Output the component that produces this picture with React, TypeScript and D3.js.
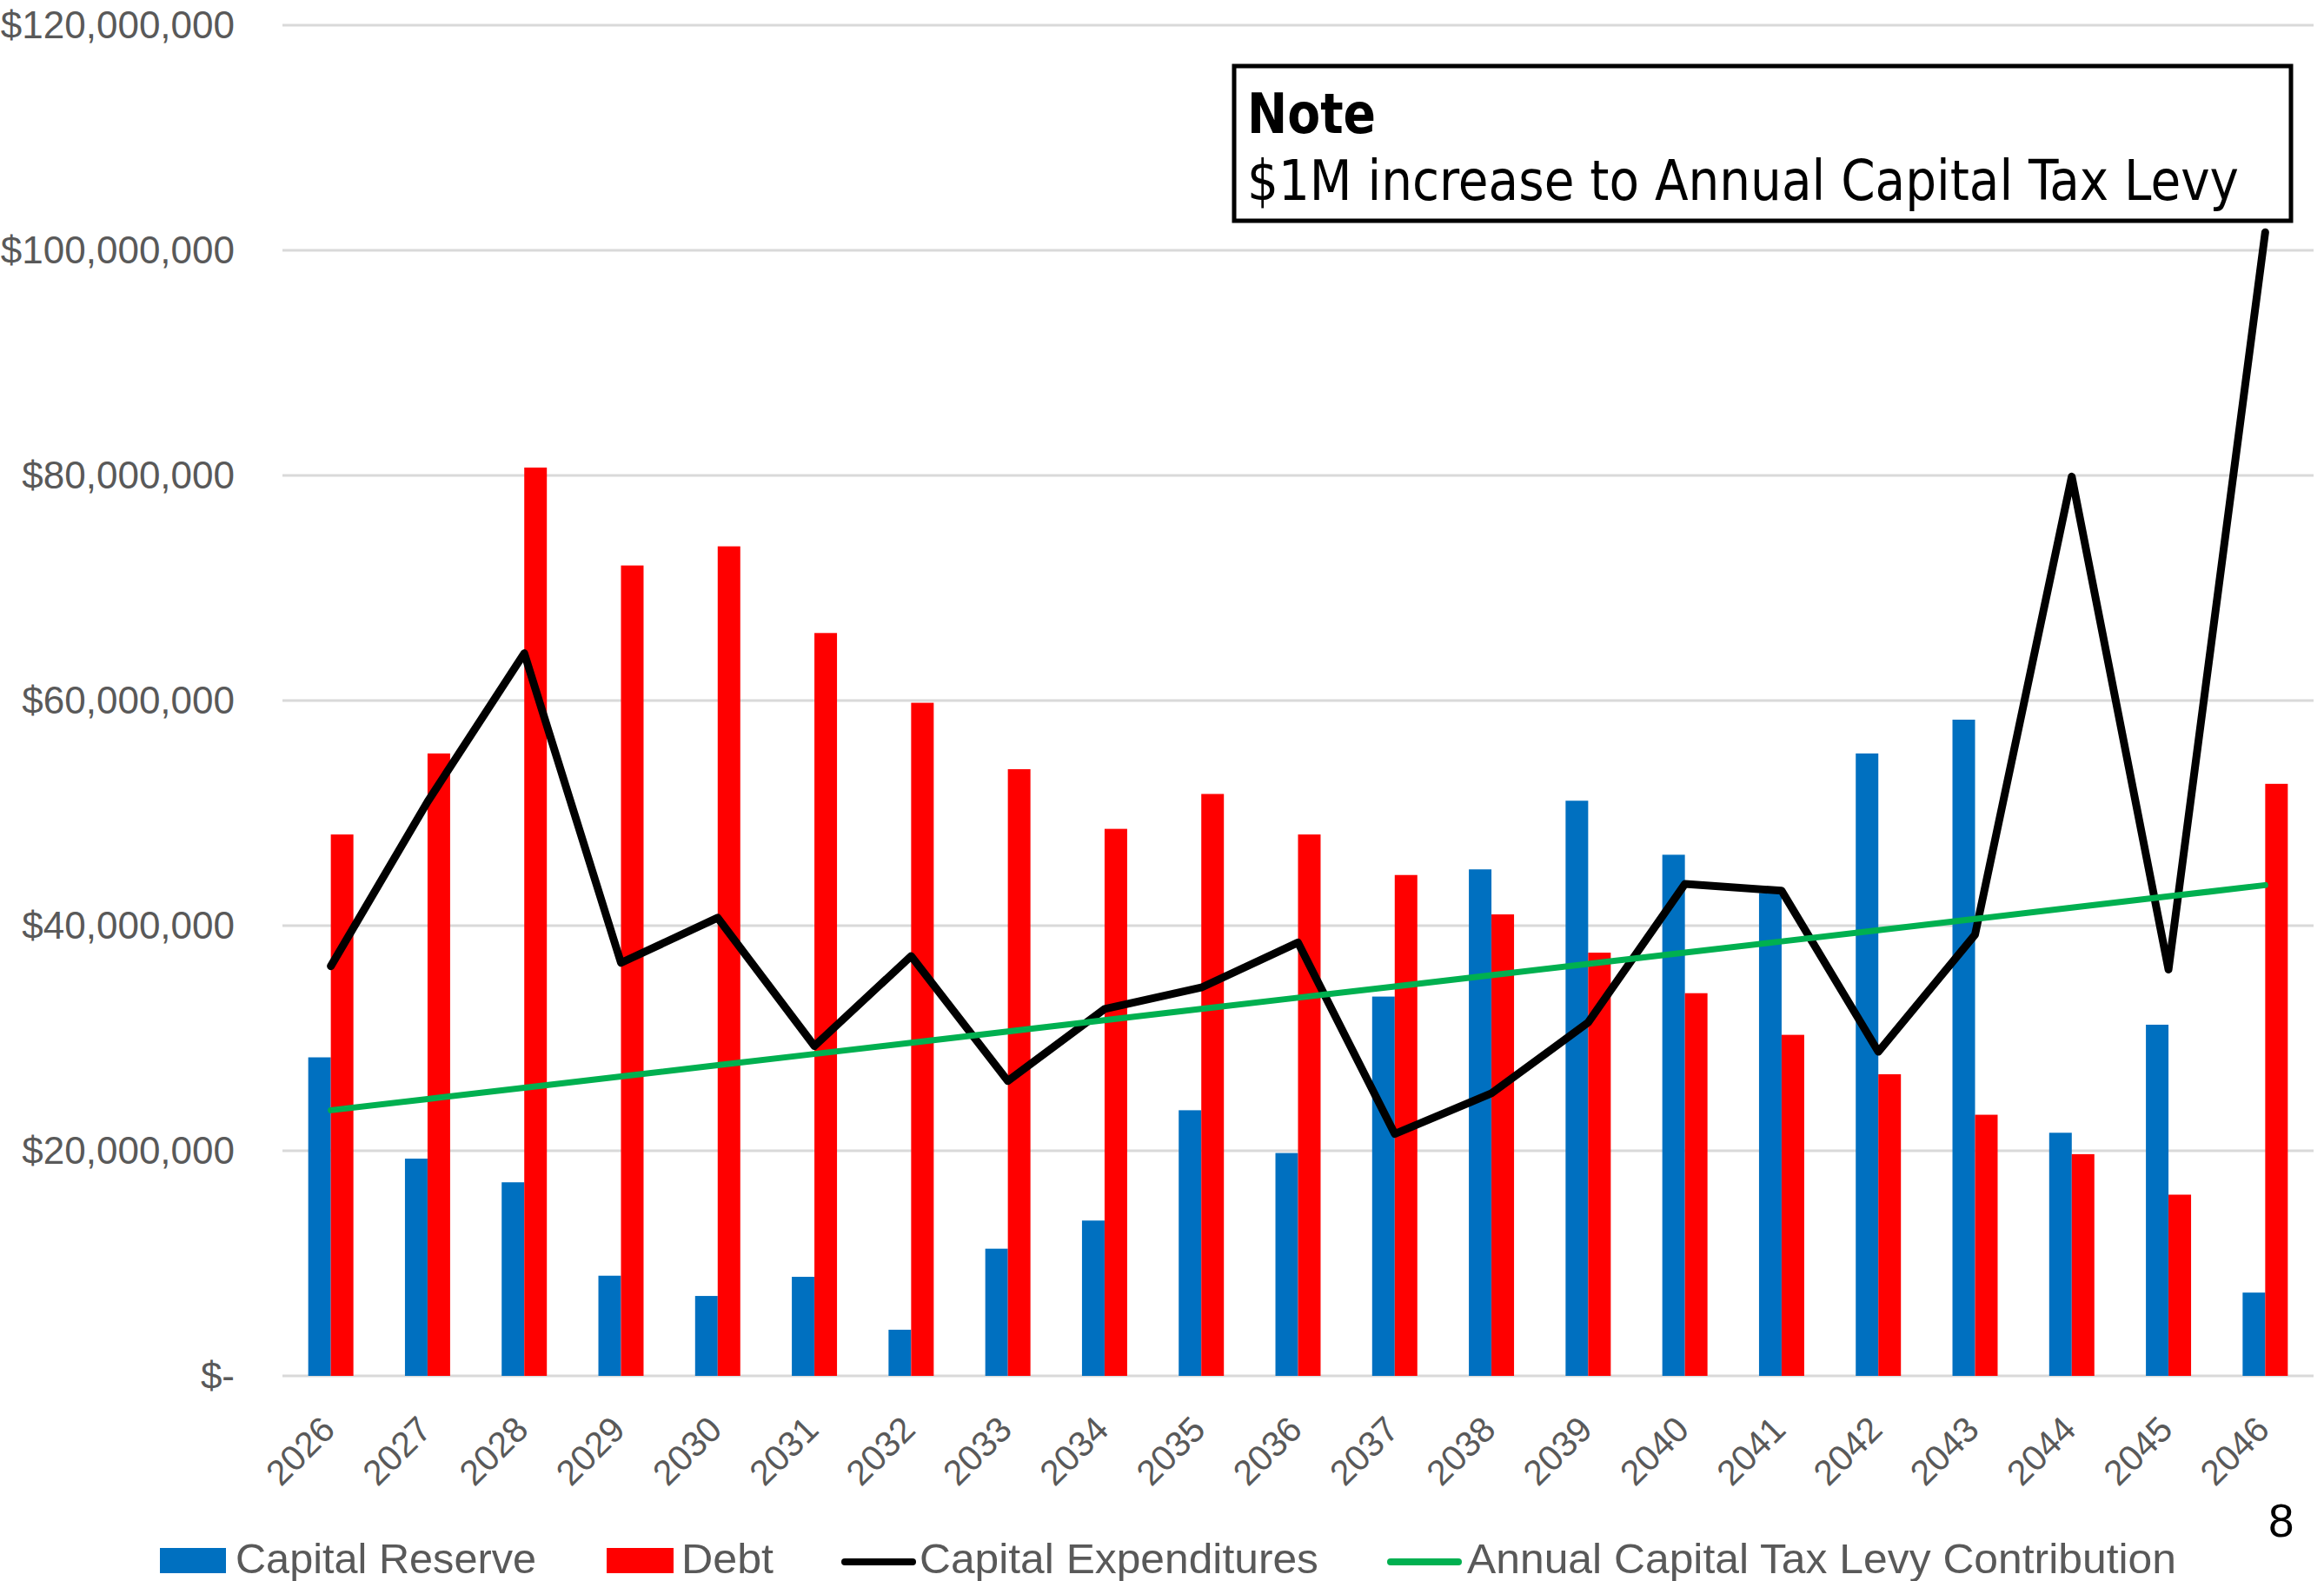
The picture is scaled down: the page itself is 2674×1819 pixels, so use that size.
import React from "react";
import * as d3 from "d3";

// years on the category axis
const years = [
  "2026", "2027", "2028", "2029", "2030", "2031", "2032", "2033", "2034", "2035", "2036",
  "2037", "2038", "2039", "2040", "2041", "2042", "2043", "2044", "2045", "2046",
];

// values in $ millions
const capitalReserve = [
  28.3, 19.3, 17.2, 8.9, 7.1, 8.8, 4.1, 11.3, 13.8, 23.6, 19.8,
  33.7, 45.0, 51.1, 46.3, 42.9, 55.3, 58.3, 21.6, 31.2, 7.4,
];
const debt = [
  48.1, 55.3, 80.7, 72.0, 73.7, 66.0, 59.8, 53.9, 48.6, 51.7, 48.1,
  44.5, 41.0, 37.6, 34.0, 30.3, 26.8, 23.2, 19.7, 16.1, 52.6,
];
const capitalExpenditures = [
  36.4, 51.0, 64.2, 36.7, 40.7, 29.3, 37.3, 26.2, 32.6, 34.5, 38.5,
  21.5, 25.1, 31.4, 43.7, 43.1, 28.8, 39.2, 79.9, 36.1, 101.6,
];
const taxLevy = [
  23.6, 24.6, 25.6, 26.6, 27.6, 28.6, 29.6, 30.6, 31.6, 32.6, 33.6,
  34.6, 35.6, 36.6, 37.6, 38.6, 39.6, 40.6, 41.6, 42.6, 43.6,
];

const yTicks = [0, 20, 40, 60, 80, 100, 120];

const W = 2674,
  H = 1819,
  margin = { left: 325, right: 12, top: 29, bottom: 236 };

const BLUE = "#0070C0",
  RED = "#FF0000",
  BLACK = "#000000",
  GREEN = "#00B050",
  GRID = "#D9D9D9",
  LABEL = "#595959";

export default function App() {
  const x = d3
    .scaleBand()
    .domain(years)
    .range([margin.left, W - margin.right])
    .paddingInner(0.533)
    .paddingOuter(0.2665);
  const xSub = d3.scaleBand().domain(["reserve", "debt"]).range([0, x.bandwidth()]);
  const y = d3.scaleLinear().domain([0, 120]).range([H - margin.bottom, margin.top]);
  const center = (yr: string) => (x(yr) as number) + x.bandwidth() / 2;

  const line = d3
    .line<number>()
    .x((_, i) => center(years[i]))
    .y((d) => y(d));

  const fmt = d3.format("$,");
  const tickLabel = (v: number) => (v === 0 ? "$-" : fmt(v * 1e6));

  const axisFont = "'Liberation Sans', Arial, sans-serif";
  const noteFont = "'DejaVu Sans Condensed', 'DejaVu Sans', Tahoma, sans-serif";

  return (
    <div style={{ position: "absolute", left: 0, top: 0 }}>
      <svg width={W} height={H} style={{ display: "block", background: "#fff" }}>
        {/* gridlines + y labels */}
        <g>
          {yTicks.map((t) => (
            <g key={t}>
              <line
                x1={margin.left}
                x2={W - margin.right}
                y1={y(t)}
                y2={y(t)}
                stroke={GRID}
                strokeWidth={3}
              />
              <text
                x={270}
                y={y(t)}
                dy="0.35em"
                textAnchor="end"
                fontFamily={axisFont}
                fontSize={44}
                fill={LABEL}
              >
                {tickLabel(t)}
              </text>
            </g>
          ))}
        </g>

        {/* bars */}
        <g>
          {years.map((yr, i) => (
            <g key={yr} transform={`translate(${x(yr)},0)`}>
              <rect
                x={xSub("reserve")}
                width={xSub.bandwidth()}
                y={y(capitalReserve[i])}
                height={y(0) - y(capitalReserve[i])}
                fill={BLUE}
              />
              <rect
                x={xSub("debt")}
                width={xSub.bandwidth()}
                y={y(debt[i])}
                height={y(0) - y(debt[i])}
                fill={RED}
              />
            </g>
          ))}
        </g>

        {/* lines */}
        <path
          d={line(capitalExpenditures) || ""}
          fill="none"
          stroke={BLACK}
          strokeWidth={9}
          strokeLinejoin="round"
          strokeLinecap="round"
        />
        <path
          d={line(taxLevy) || ""}
          fill="none"
          stroke={GREEN}
          strokeWidth={7}
          strokeLinecap="round"
        />

        {/* x labels */}
        <g>
          {years.map((yr) => (
            <text
              key={yr}
              transform={`translate(${center(yr) + 7},1647) rotate(-45)`}
              textAnchor="end"
              fontFamily={axisFont}
              fontSize={41}
              fill={LABEL}
            >
              {yr}
            </text>
          ))}
        </g>

        {/* legend */}
        <g fontFamily={axisFont} fontSize={49} fill={LABEL}>
          <rect x={184} y={1781} width={76} height={29} fill={BLUE} />
          <text x={271} y={1810} textLength={346} lengthAdjust="spacingAndGlyphs">
            Capital Reserve
          </text>
          <rect x={698} y={1781} width={77} height={29} fill={RED} />
          <text x={784} y={1810} textLength={106} lengthAdjust="spacingAndGlyphs">
            Debt
          </text>
          <line x1={972} x2={1050} y1={1797} y2={1797} stroke={BLACK} strokeWidth={8} strokeLinecap="round" />
          <text x={1058} y={1810} textLength={459} lengthAdjust="spacingAndGlyphs">
            Capital Expenditures
          </text>
          <line x1={1600} x2={1678} y1={1797} y2={1797} stroke={GREEN} strokeWidth={8} strokeLinecap="round" />
          <text x={1688} y={1810} textLength={816} lengthAdjust="spacingAndGlyphs">
            Annual Capital Tax Levy Contribution
          </text>
        </g>

        {/* note box */}
        <g>
          <rect x={1420} y={76} width={1216} height={178} fill="#fff" stroke="#000" strokeWidth={5} />
          <text
            x={1435}
            y={153}
            fontFamily={noteFont}
            fontWeight="bold"
            fontSize={64}
            fill="#000"
            textLength={148}
            lengthAdjust="spacingAndGlyphs"
          >
            Note
          </text>
          <text
            x={1435}
            y={230}
            fontFamily={noteFont}
            fontSize={64}
            fill="#000"
            textLength={1141}
            lengthAdjust="spacingAndGlyphs"
          >
            $1M increase to Annual Capital Tax Levy
          </text>
        </g>

        {/* page number */}
        <text x={2610} y={1768} fontFamily={axisFont} fontSize={53} fill="#000">
          8
        </text>
      </svg>
    </div>
  );
}
